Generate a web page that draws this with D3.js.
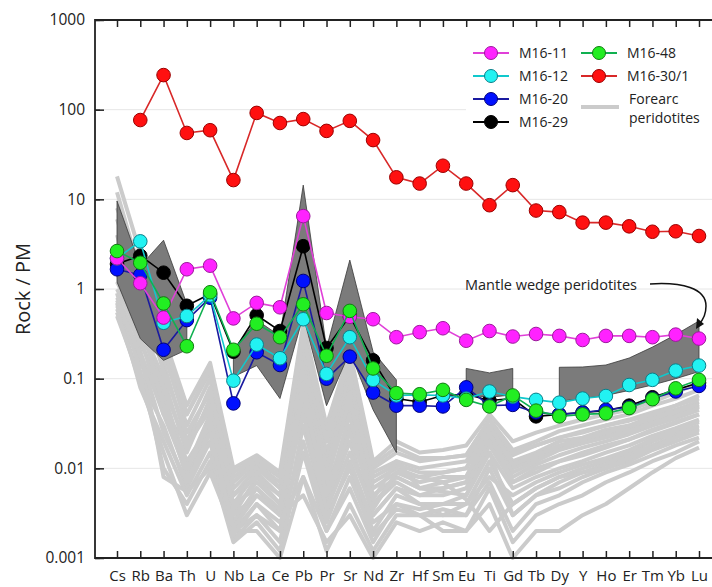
<!DOCTYPE html>
<html>
<head>
<meta charset="utf-8" />
<script src="https://d3js.org/d3.v7.min.js"></script>
<style>
  body { margin: 0; background: #fff; }
  svg { display: block; font-family: "Open Sans", sans-serif; }
</style>
</head>
<body>
<div id="chart"></div>
<script>
// element order on the x axis
var elements = ["Cs","Rb","Ba","Th","U","Nb","La","Ce","Pb","Pr","Sr","Nd","Zr","Hf","Sm","Eu","Ti","Gd","Tb","Dy","Y","Ho","Er","Tm","Yb","Lu"];

// samples (null = not analysed)
var m16_29 = [1.9, 2.35, 1.52, 0.65, 0.88, 0.2, 0.51, 0.34, 3.0, 0.22, 0.5, 0.16, 0.06, 0.055, 0.065, 0.067, 0.057, 0.06, 0.038, 0.04, 0.042, 0.044, 0.05, 0.062, 0.075, 0.09];
var m16_20 = [1.66, 1.43, 0.21, 0.45, 0.8, 0.053, 0.197, 0.142, 1.23, 0.1, 0.176, 0.07, 0.05, 0.05, 0.049, 0.08, 0.05, 0.051, 0.042, 0.04, 0.042, 0.045, 0.048, 0.06, 0.072, 0.083];
var m16_12 = [2.2, 3.4, 0.42, 0.5, 0.85, 0.095, 0.24, 0.169, 0.46, 0.113, 0.29, 0.097, 0.065, 0.066, 0.065, 0.06, 0.072, 0.063, 0.058, 0.054, 0.06, 0.064, 0.085, 0.097, 0.123, 0.14];
var m16_11 = [2.2, 1.16, 0.48, 1.66, 1.82, 0.47, 0.7, 0.625, 6.5, 0.54, 0.49, 0.46, 0.29, 0.33, 0.365, 0.265, 0.34, 0.295, 0.315, 0.3, 0.27, 0.3, 0.3, 0.29, 0.31, 0.28];
var m16_48 = [2.65, 1.96, 0.69, 0.23, 0.92, 0.21, 0.41, 0.29, 0.675, 0.18, 0.57, 0.13, 0.069, 0.067, 0.075, 0.058, 0.049, 0.065, 0.044, 0.038, 0.04, 0.041, 0.047, 0.059, 0.078, 0.097];
var m16_30 = [null, 76.6, 243, 55, 59, 16.4, 92, 71, 78.5, 58, 75, 45.8, 17.6, 15, 23.7, 15, 8.6, 14.4, 7.5, 7.2, 5.5, 5.5, 5.0, 4.35, 4.4, 3.9];

// mantle wedge peridotite field, pieces given as [element, upper, lower]
var wedgeA = [["Cs", 9.6, 1.2], ["Rb", 1.8, 0.28], ["Ba", 3.5, 0.16], ["Th", 0.68, 0.21]];
var wedgeB = [["Nb", 0.21, 0.105], ["La", 0.45, 0.14], ["Ce", 0.3, 0.06], ["Pb", 14.4, 0.5], ["Pr", 0.22, 0.05], ["Sr", 2.1, 0.2], ["Nd", 0.2, 0.045], ["Zr", 0.097, 0.015]];
var wedgeC = [["Eu", 0.13, 0.066], ["Ti", 0.116, 0.062], ["Gd", 0.13, 0.066]];
var wedgeD = [["Dy", 0.134, 0.056], ["Y", 0.135, 0.06], ["Ho", 0.142, 0.065], ["Er", 0.17, 0.074], ["Tm", 0.225, 0.085], ["Yb", 0.31, 0.1], ["Lu", 0.44, 0.12]];

// forearc peridotites (grey field)
var forearc = [
  [18, 2.5, 0.3, 0.05, 0.15, 0.01, 0.014, 0.009, 0.4, 0.03, 0.2, 0.012, 0.02, 0.015, 0.016, 0.018, 0.04, 0.02, 0.025, 0.03, 0.035, 0.04, 0.045, 0.055, 0.07, 0.09],
  [12, 1.5, 0.25, 0.04, 0.12, 0.008, 0.012, 0.008, 0.35, 0.025, 0.15, 0.01, 0.015, 0.012, 0.013, 0.014, 0.035, 0.016, 0.02, 0.026, 0.03, 0.035, 0.04, 0.05, 0.06, 0.075],
  [6, 1.0, 0.2, 0.03, 0.1, 0.006, 0.011, 0.007, 0.3, 0.02, 0.12, 0.009, 0.012, 0.01, 0.011, 0.012, 0.03, 0.014, 0.018, 0.022, 0.026, 0.03, 0.035, 0.042, 0.05, 0.065],
  [3, 0.6, 0.15, 0.02, 0.08, 0.005, 0.01, 0.006, 0.25, 0.015, 0.1, 0.007, 0.01, 0.008, 0.009, 0.01, 0.028, 0.012, 0.015, 0.02, 0.022, 0.027, 0.03, 0.038, 0.045, 0.055],
  [1.5, 0.4, 0.1, 0.015, 0.06, 0.004, 0.009, 0.005, 0.2, 0.012, 0.08, 0.006, 0.009, 0.007, 0.008, 0.008, 0.025, 0.01, 0.013, 0.017, 0.02, 0.024, 0.028, 0.034, 0.04, 0.05],
  [0.8, 0.25, 0.07, 0.01, 0.04, 0.003, 0.008, 0.004, 0.15, 0.008, 0.05, 0.005, 0.008, 0.006, 0.006, 0.007, 0.02, 0.008, 0.011, 0.014, 0.017, 0.02, 0.024, 0.03, 0.036, 0.045],
  [0.6, 0.15, 0.05, 0.008, 0.03, 0.0025, 0.006, 0.003, 0.1, 0.006, 0.03, 0.004, 0.007, 0.005, 0.005, 0.006, 0.018, 0.007, 0.009, 0.012, 0.014, 0.017, 0.021, 0.026, 0.032, 0.04],
  [0.5, 0.1, 0.03, 0.006, 0.02, 0.002, 0.004, 0.002, 0.06, 0.004, 0.02, 0.003, 0.006, 0.004, 0.004, 0.005, 0.015, 0.006, 0.008, 0.01, 0.012, 0.015, 0.018, 0.023, 0.028, 0.035],
  [0.7, 0.08, 0.02, 0.005, 0.015, 0.0016, 0.003, 0.0015, 0.03, 0.003, 0.01, 0.002, 0.005, 0.004, 0.003, 0.004, 0.012, 0.004, 0.006, 0.008, 0.01, 0.012, 0.015, 0.02, 0.025, 0.03],
  [0.9, 0.12, 0.01, 0.004, 0.012, 0.0015, 0.0025, 0.0012, 0.015, 0.002, 0.006, 0.0015, 0.004, 0.003, 0.003, 0.003, 0.01, 0.003, 0.005, 0.006, 0.008, 0.01, 0.012, 0.016, 0.02, 0.025],
  [2, 0.2, 0.008, 0.0055, 0.01, 0.002, 0.002, 0.001, 0.008, 0.0012, 0.004, 0.0012, 0.003, 0.003, 0.002, 0.002, 0.006, 0.0015, 0.003, 0.004, 0.005, 0.007, 0.009, 0.012, 0.015, 0.02],
  [1, 0.3, 0.04, 0.02, 0.05, 0.003, 0.005, 0.003, 0.005, 0.0015, 0.003, 0.001, 0.0025, 0.002, 0.0025, 0.002, 0.004, 0.001, 0.002, 0.002, 0.003, 0.004, 0.006, 0.009, 0.013, 0.017],
  [4, 0.5, 0.06, 0.012, 0.03, 0.0035, 0.007, 0.004, 0.05, 0.005, 0.04, 0.003, 0.006, 0.005, 0.006, 0.007, 0.022, 0.009, 0.012, 0.016, 0.019, 0.022, 0.026, 0.032, 0.038, 0.048],
  [2.5, 0.9, 0.12, 0.025, 0.07, 0.007, 0.012, 0.006, 0.12, 0.01, 0.07, 0.008, 0.011, 0.009, 0.009, 0.01, 0.03, 0.011, 0.014, 0.018, 0.021, 0.025, 0.03, 0.036, 0.043, 0.052],
  [0.55, 0.09, 0.015, 0.003, 0.009, 0.002, 0.003, 0.002, 0.02, 0.0025, 0.012, 0.0025, 0.004, 0.0035, 0.004, 0.004, 0.008, 0.005, 0.007, 0.009, 0.011, 0.013, 0.016, 0.021, 0.027, 0.033],
  [8, 1.8, 0.3, 0.04, 0.13, 0.009, 0.013, 0.008, 0.3, 0.02, 0.18, 0.011, 0.017, 0.013, 0.013, 0.014, 0.035, 0.015, 0.018, 0.022, 0.025, 0.03, 0.034, 0.04, 0.05, 0.06],
  [0.65, 0.2, 0.04, 0.009, 0.02, 0.0018, 0.004, 0.0025, 0.008, 0.002, 0.008, 0.0018, 0.0035, 0.003, 0.0035, 0.003, 0.007, 0.002, 0.004, 0.005, 0.007, 0.009, 0.011, 0.014, 0.018, 0.022],
  [1.2, 0.35, 0.08, 0.018, 0.045, 0.005, 0.008, 0.005, 0.09, 0.007, 0.06, 0.004, 0.008, 0.006, 0.007, 0.008, 0.025, 0.007, 0.01, 0.012, 0.015, 0.018, 0.021, 0.027, 0.033, 0.04],
  [0.75, 0.18, 0.025, 0.007, 0.025, 0.0022, 0.005, 0.0035, 0.04, 0.0035, 0.015, 0.0035, 0.009, 0.008, 0.007, 0.0045, 0.002, 0.004, 0.006, 0.008, 0.009, 0.011, 0.014, 0.018, 0.023, 0.028],
  [1.8, 0.45, 0.05, 0.01, 0.035, 0.004, 0.006, 0.0035, 0.07, 0.005, 0.025, 0.0045, 0.012, 0.006, 0.0055, 0.005, 0.015, 0.003, 0.005, 0.007, 0.009, 0.01, 0.013, 0.017, 0.022, 0.027]
];

var series = [
  {name: "M16-29",   values: m16_29, fill: "#000000", stroke: "#000000", line: "#000000"},
  {name: "M16-20",   values: m16_20, fill: "#0010ff", stroke: "#00007a", line: "#1a1aa0"},
  {name: "M16-12",   values: m16_12, fill: "#22f2f2", stroke: "#0a7f8a", line: "#10c8cc"},
  {name: "M16-11",   values: m16_11, fill: "#ff22ff", stroke: "#9a1a9a", line: "#e040d8"},
  {name: "M16-48",   values: m16_48, fill: "#22ee22", stroke: "#127a12", line: "#10b050"},
  {name: "M16-30/1", values: m16_30, fill: "#ff1010", stroke: "#9a0000", line: "#d82828"}
];

var width = 712, height = 587;
var plot = {left: 95, right: 721, top: 20, bottom: 558};

var svg = d3.select("#chart").append("svg")
  .attr("width", width).attr("height", height);

var x = d3.scalePoint().domain(elements).range([117, 699]);
var y = d3.scaleLog().domain([0.001, 1000]).range([plot.bottom, plot.top]);

var decades = [0.001, 0.01, 0.1, 1, 10, 100, 1000];

// faint grid
svg.append("g").selectAll("line")
  .data(decades.slice(1, -1))
  .enter().append("line")
  .attr("x1", plot.left).attr("x2", plot.right)
  .attr("y1", function(d) { return y(d); })
  .attr("y2", function(d) { return y(d); })
  .attr("stroke", "#e6e6e6").attr("stroke-width", 1);

var lineGen = d3.line()
  .defined(function(d) { return d != null; })
  .x(function(d, i) { return x(elements[i]); })
  .y(function(d) { return y(d); });

// forearc field
svg.append("g").selectAll("path")
  .data(forearc)
  .enter().append("path")
  .attr("d", lineGen)
  .attr("fill", "none")
  .attr("stroke", "#cbcbcb")
  .attr("stroke-width", 4)
  .attr("stroke-linejoin", "round");

// mantle wedge field
var area = d3.area()
  .x(function(d) { return x(d[0]); })
  .y0(function(d) { return y(d[2]); })
  .y1(function(d) { return y(d[1]); });

svg.append("g").selectAll("path")
  .data([wedgeA, wedgeB, wedgeC, wedgeD])
  .enter().append("path")
  .attr("d", area)
  .attr("fill", "#7b7b7b")
  .attr("stroke", "#3a3a3a")
  .attr("stroke-width", 0.8);

// sample lines and markers
var sg = svg.append("g").selectAll("g")
  .data(series)
  .enter().append("g");

sg.append("path")
  .attr("d", function(d) { return lineGen(d.values); })
  .attr("fill", "none")
  .attr("stroke", function(d) { return d.line; })
  .attr("stroke-width", 1.6);

sg.selectAll("circle")
  .data(function(d) {
    return d.values.map(function(v, i) { return {v: v, el: elements[i], s: d}; })
      .filter(function(p) { return p.v != null; });
  })
  .enter().append("circle")
  .attr("cx", function(d) { return x(d.el); })
  .attr("cy", function(d) { return y(d.v); })
  .attr("r", 6.8)
  .attr("fill", function(d) { return d.s.fill; })
  .attr("stroke", function(d) { return d.s.stroke; })
  .attr("stroke-width", 1);

// frame: left, top, bottom
svg.append("path")
  .attr("d", "M" + plot.right + "," + plot.top + "H" + plot.left + "V" + plot.bottom + "H" + plot.right)
  .attr("fill", "none").attr("stroke", "#222").attr("stroke-width", 1.8);

// y axis: minor ticks inside, major ticks with labels
svg.append("g")
  .attr("transform", "translate(" + plot.left + ",0)")
  .call(d3.axisLeft(y).ticks(6).tickSizeInner(-5).tickSizeOuter(0).tickFormat(""))
  .call(function(g) { g.select(".domain").remove(); })
  .selectAll("line").attr("stroke", "#222").attr("stroke-width", 1.2);

var yMajor = svg.append("g")
  .attr("transform", "translate(" + plot.left + ",0)")
  .call(d3.axisLeft(y).tickValues(decades).tickSizeInner(-9).tickSizeOuter(0).tickPadding(10)
    .tickFormat(function(d) { return d >= 1 ? d3.format("d")(d) : String(+d.toPrecision(1)); }));
yMajor.select(".domain").remove();
yMajor.selectAll("line").attr("stroke", "#222").attr("stroke-width", 1.5);
yMajor.selectAll("text")
  .attr("fill", "#222")
  .style("font-size", "15.5px")
  .style("font-family", "Open Sans");

// top ticks
svg.append("g")
  .attr("transform", "translate(0," + plot.top + ")")
  .call(d3.axisTop(x).tickSizeInner(-7).tickSizeOuter(0).tickFormat(""))
  .call(function(g) { g.select(".domain").remove(); })
  .selectAll("line").attr("stroke", "#222").attr("stroke-width", 1.5);

// bottom ticks and element labels
var xAxis = svg.append("g")
  .attr("transform", "translate(0," + plot.bottom + ")")
  .call(d3.axisBottom(x).tickSizeInner(-7).tickSizeOuter(0).tickPadding(12));
xAxis.select(".domain").remove();
xAxis.selectAll("line").attr("stroke", "#222").attr("stroke-width", 1.5);
xAxis.selectAll("text")
  .attr("fill", "#222")
  .style("font-size", "15px")
  .style("font-family", "Open Sans");

// y title
svg.append("text")
  .attr("transform", "translate(30,289) rotate(-90)")
  .attr("text-anchor", "middle")
  .attr("fill", "#222")
  .style("font-size", "20px")
  .text("Rock / PM");

// legend
var legend = svg.append("g");
legend.append("rect")
  .attr("x", 466).attr("y", 37).attr("width", 250).attr("height", 92)
  .attr("fill", "#fff");

var legendItems = [
  {s: series[3], x: 473, y: 53},
  {s: series[2], x: 473, y: 76},
  {s: series[1], x: 473, y: 99},
  {s: series[0], x: 473, y: 122},
  {s: series[4], x: 581, y: 53},
  {s: series[5], x: 581, y: 76}
];

var li = legend.selectAll("g.item")
  .data(legendItems)
  .enter().append("g")
  .attr("class", "item")
  .attr("transform", function(d) { return "translate(" + d.x + "," + d.y + ")"; });

li.append("line")
  .attr("x1", 0).attr("x2", 36)
  .attr("stroke", function(d) { return d.s.line; })
  .attr("stroke-width", 2);
li.append("circle")
  .attr("cx", 18).attr("r", 6.5)
  .attr("fill", function(d) { return d.s.fill; })
  .attr("stroke", function(d) { return d.s.stroke; });
li.append("text")
  .attr("x", 46).attr("dy", "0.35em")
  .attr("fill", "#222")
  .style("font-size", "14px")
  .text(function(d) { return d.s.name; });

legend.append("line")
  .attr("x1", 581).attr("x2", 619).attr("y1", 107).attr("y2", 107)
  .attr("stroke", "#cbcbcb").attr("stroke-width", 4);
legend.append("text")
  .attr("x", 629).attr("y", 99).attr("dy", "0.35em")
  .attr("fill", "#222").style("font-size", "14px")
  .text("Forearc");
legend.append("text")
  .attr("x", 629).attr("y", 118).attr("dy", "0.35em")
  .attr("fill", "#222").style("font-size", "14px")
  .text("peridotites");

// annotation
svg.append("text")
  .attr("x", 465).attr("y", 290)
  .attr("fill", "#222")
  .style("font-size", "14.5px")
  .text("Mantle wedge peridotites");

svg.append("path")
  .attr("d", "M650,284 C682,282 706,288 706,306 C706,314 703,320 699,324")
  .attr("fill", "none").attr("stroke", "#111").attr("stroke-width", 1.5);
svg.append("path")
  .attr("d", "M696,329 L697,318 L704,324 Z")
  .attr("fill", "#111");
</script>
</body>
</html>
